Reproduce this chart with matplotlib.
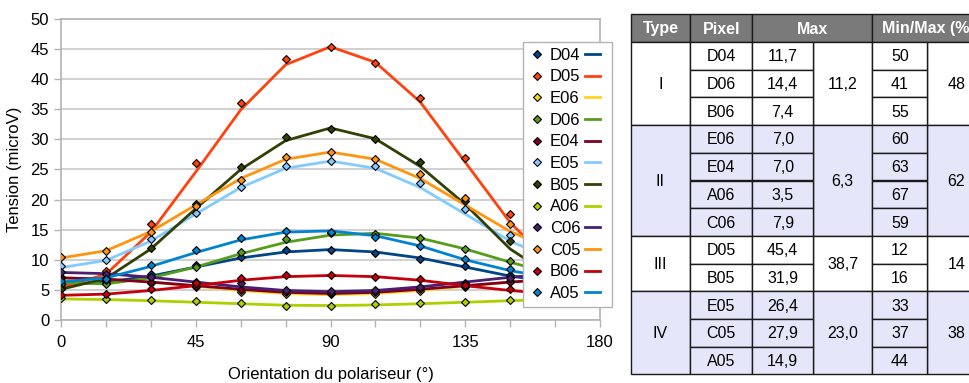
import matplotlib
matplotlib.use("Agg")
import matplotlib.pyplot as plt
from matplotlib.lines import Line2D
from matplotlib.patches import Rectangle
import numpy as np

plt.rcParams['font.family'] = ['Liberation Sans', 'DejaVu Sans']

# ---------------------------------
# DATA
# ---------------------------------
angles = [0, 15, 30, 45, 60, 75, 90, 105, 120, 135, 150, 165, 180]

names = ["D04", "D05", "E06", "D06", "E04", "E05", "B05", "A06", "C06", "C05", "B06", "A05"]
colors = ["#004586", "#ff420e", "#ffd320", "#579d1c", "#7e0021", "#83caff",
          "#314004", "#aecf00", "#4b1f6f", "#ff950e", "#c5000b", "#0084d1"]

# measured points (markers)
d04_pts = [5.9, 6.2, 7.6, 9.1, 10.4, 11.6, 11.7, 11.2, 10.2, 8.9, 7.4, 6.4, 5.9]
d05_pts = [5.4, 8.1, 16.0, 26.1, 36.0, 43.3, 45.4, 42.7, 36.8, 26.9, 17.6, 9.0, 5.6]
e06_pts = [7.1, 6.5, 6.1, 5.4, 4.6, 4.3, 4.3, 4.4, 4.9, 5.4, 6.5, 6.9, 7.0]
d06_pts = [6.0, 5.9, 7.2, 8.8, 11.3, 13.4, 14.5, 14.3, 13.6, 11.8, 9.8, 7.5, 6.1]
e04_pts = [6.9, 6.7, 6.3, 5.6, 5.0, 4.6, 4.5, 4.6, 5.1, 5.7, 6.3, 6.8, 7.0]
e05_pts = [9.0, 9.9, 13.5, 17.8, 22.1, 25.6, 26.4, 25.6, 22.7, 18.4, 14.1, 10.5, 9.0]
b05_pts = [5.2, 7.0, 11.9, 19.2, 25.4, 30.4, 31.8, 30.0, 26.3, 19.7, 13.1, 7.5, 5.3]
a06_pts = [3.6, 3.5, 3.3, 3.1, 2.8, 2.4, 2.4, 2.65, 2.9, 3.0, 3.3, 3.5, 3.6]
c06_pts = [8.0, 7.6, 7.1, 6.3, 6.1, 5.0, 4.8, 5.0, 5.5, 6.1, 7.0, 7.6, 7.9]
c05_pts = [10.4, 11.4, 14.6, 19.0, 23.3, 27.0, 27.9, 26.7, 24.2, 20.3, 15.9, 12.0, 10.5]
b06_pts = [4.15, 4.4, 5.1, 6.1, 7.0, 7.5, 7.5, 7.1, 6.8, 5.8, 5.1, 4.5, 4.0]
a05_pts = [6.5, 6.8, 9.2, 11.6, 13.7, 14.8, 14.7, 13.8, 12.3, 10.2, 8.4, 7.2, 6.6]

# fitted curves (lines)
d04_fit = [5.9, 6.3, 7.3, 8.8, 10.3, 11.3, 11.7, 11.3, 10.3, 8.8, 7.3, 6.3, 5.9]
d05_fit = [5.4, 7.6, 14.6, 24.6, 34.9, 42.4, 45.4, 42.8, 36.2, 26.2, 16.2, 8.7, 5.5]
e06_fit = [7.0, 6.8, 6.3, 5.6, 4.9, 4.4, 4.2, 4.4, 4.9, 5.6, 6.3, 6.8, 7.0]
d06_fit = [6.2, 6.0, 7.0, 8.8, 11.0, 12.9, 14.1, 14.4, 13.6, 11.8, 9.6, 7.6, 6.3]
e04_fit = [7.0, 6.8, 6.3, 5.7, 5.1, 4.6, 4.4, 4.6, 5.1, 5.7, 6.3, 6.8, 7.0]
e05_fit = [8.7, 9.9, 13.1, 17.6, 22.0, 25.2, 26.4, 25.2, 22.0, 17.6, 13.1, 9.9, 8.7]
b05_fit = [5.1, 6.9, 11.8, 18.5, 25.0, 29.8, 31.9, 30.1, 25.5, 19.2, 11.8, 6.9, 5.1]
a06_fit = [3.5, 3.4, 3.2, 2.95, 2.7, 2.45, 2.4, 2.5, 2.7, 2.95, 3.2, 3.4, 3.5]
c06_fit = [7.9, 7.7, 7.1, 6.3, 5.5, 4.9, 4.7, 4.9, 5.5, 6.3, 7.1, 7.7, 7.9]
c05_fit = [10.3, 11.5, 14.7, 19.1, 23.5, 26.7, 27.9, 26.7, 23.5, 19.1, 14.7, 11.5, 10.3]
b06_fit = [4.1, 4.3, 4.9, 5.7, 6.6, 7.2, 7.4, 7.2, 6.6, 5.7, 4.9, 4.3, 4.1]
a05_fit = [6.3, 7.0, 8.9, 11.2, 13.3, 14.6, 14.8, 14.0, 12.3, 10.0, 8.2, 6.9, 6.4]

points = [d04_pts, d05_pts, e06_pts, d06_pts, e04_pts, e05_pts,
          b05_pts, a06_pts, c06_pts, c05_pts, b06_pts, a05_pts]
fits = [d04_fit, d05_fit, e06_fit, d06_fit, e04_fit, e05_fit,
        b05_fit, a06_fit, c06_fit, c05_fit, b06_fit, a05_fit]

# table
tbl_types = ["I", "II", "III", "IV"]
tbl_pixels = [["D04", "D06", "B06"], ["E06", "E04", "A06", "C06"],
              ["D05", "B05"], ["E05", "C05", "A05"]]
tbl_max = [["11,7", "14,4", "7,4"], ["7,0", "7,0", "3,5", "7,9"],
           ["45,4", "31,9"], ["26,4", "27,9", "14,9"]]
tbl_max_mean = ["11,2", "6,3", "38,7", "23,0"]
tbl_ratio = [["50", "41", "55"], ["60", "63", "67", "59"],
             ["12", "16"], ["33", "37", "44"]]
tbl_ratio_mean = ["48", "62", "14", "38"]
tbl_header = ["Type", "Pixel", "Max", "Min/Max (%)"]

# ---------------------------------
# CHART
# ---------------------------------
W, H = 970, 383
fig = plt.figure(figsize=(W / 100, H / 100), dpi=100)
ax = fig.add_axes([61 / W, 1 - 320 / H, 539 / W, 301 / H])

for ys, c in zip(fits, colors):
    ax.plot(angles, ys, color=c, lw=2, zorder=2, solid_joinstyle='round')
for ys, c in zip(points, colors):
    ax.plot(angles, ys, ls='none', marker='D', ms=4.3, mfc=c, mec='black',
            mew=0.8, zorder=3)

ax.set_xlim(0, 180)
ax.set_ylim(0, 50)
ax.set_xticks(range(0, 181, 45))
ax.set_xticks(range(0, 181, 15), minor=True)
ax.set_yticks(range(0, 51, 5))
ax.grid(axis='y', color='#c8c8c8', lw=1.2, zorder=0)
ax.set_axisbelow(True)
for s in ax.spines.values():
    s.set_color('#b3b3b3')
    s.set_linewidth(1.2)
ax.tick_params(which='both', direction='out', color='#b3b3b3', labelsize=12,
               length=5, width=1)
ax.tick_params(axis='x', pad=6)
ax.set_xlabel("Orientation du polariseur (°)", fontsize=12, labelpad=12)
ax.set_ylabel("Tension (microV)", fontsize=12, labelpad=6)

mk_handles = [Line2D([], [], ls='none', marker='D', ms=4.3, mfc=c, mec='black', mew=0.8)
              for c in colors]
ln_handles = [Line2D([], [], color=c, lw=2) for c in colors]
leg = ax.legend(mk_handles + ln_handles, names + [''] * len(names), ncol=2,
                loc='upper right', bbox_to_anchor=((612 - 61) / 539, (320 - 42) / 301),
                borderaxespad=0, fontsize=12, handlelength=0.9, handletextpad=0.35,
                columnspacing=0.3, labelspacing=0.4, borderpad=0.35,
                frameon=True, fancybox=False, edgecolor='#b3b3b3', framealpha=1)
leg.get_frame().set_linewidth(1.0)

# ---------------------------------
# TABLE
# ---------------------------------
tax = fig.add_axes([0, 0, 1, 1])
tax.set_xlim(0, W)
tax.set_ylim(H, 0)
tax.axis('off')

cols = [631, 690, 752.5, 813, 872.5, 927.5, 985]
top, head_bot, row_h = 14, 42, 27.7
lav = '#e6e6fa'
edge = '#1a1a1a'

def cell(x0, x1, y0, y1, face, txt, **kw):
    tax.add_patch(Rectangle((x0, y0), x1 - x0, y1 - y0, facecolor=face,
                            edgecolor=edge, lw=1))
    tax.text((x0 + x1) / 2, (y0 + y1) / 2 + 1, txt, ha='center', va='center',
             fontsize=11.5, **kw)

hdr = '#7a7a7a'
cell(cols[0], cols[1], top, head_bot, hdr, tbl_header[0], color='white', weight='bold')
cell(cols[1], cols[2], top, head_bot, hdr, tbl_header[1], color='white', weight='bold')
cell(cols[2], cols[4], top, head_bot, hdr, tbl_header[2], color='white', weight='bold')
cell(cols[4], cols[6], top, head_bot, hdr, tbl_header[3], color='white', weight='bold')

y = head_bot
for g, t in enumerate(tbl_types):
    n = len(tbl_pixels[g])
    face = lav if g % 2 == 1 else 'white'
    y1 = y + n * row_h
    cell(cols[0], cols[1], y, y1, face, t)
    cell(cols[3], cols[4], y, y1, face, tbl_max_mean[g])
    cell(cols[5], cols[6], y, y1, face, tbl_ratio_mean[g])
    for i in range(n):
        r0 = y + i * row_h
        cell(cols[1], cols[2], r0, r0 + row_h, face, tbl_pixels[g][i])
        cell(cols[2], cols[3], r0, r0 + row_h, face, tbl_max[g][i])
        cell(cols[4], cols[5], r0, r0 + row_h, face, tbl_ratio[g][i])
    y = y1

fig.savefig("out.png", dpi=100)
